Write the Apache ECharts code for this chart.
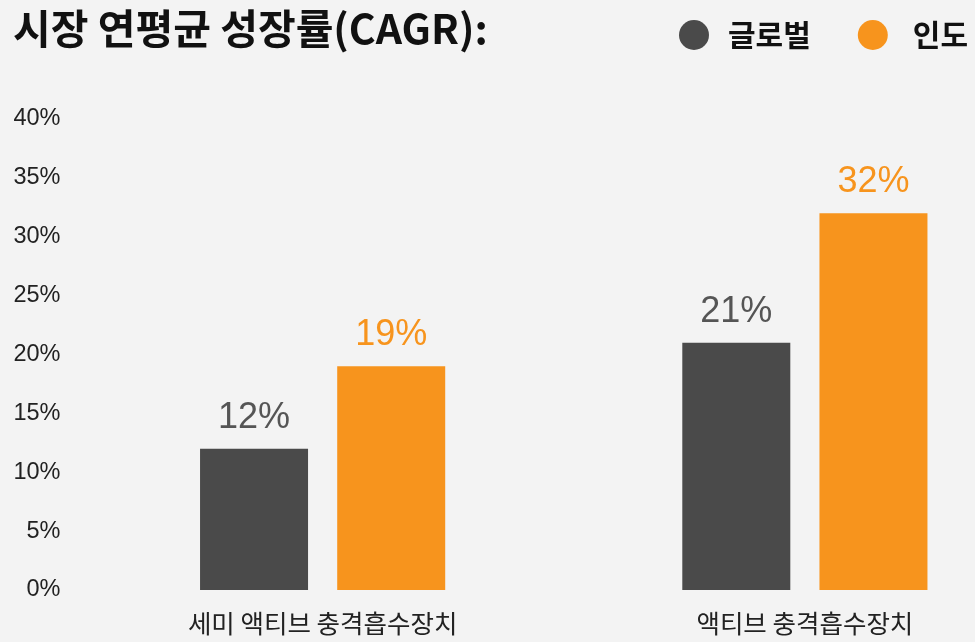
<!DOCTYPE html>
<html>
<head>
<meta charset="utf-8">
<script src="https://cdn.jsdelivr.net/npm/echarts@6/dist/echarts.min.js"></script>
<style>
	html, body { margin: 0; padding: 0; background: #f3f3f3; overflow: hidden; }
	/* the source chart is cropped on the right, so the canvas is wider than the window */
	#chart { width: 1046px; height: 642px; }
</style>
</head>
<body>
<div id="chart"></div>
<script>
const categories = ['세미 액티브 충격흡수장치', '액티브 충격흡수장치']
const seriesNames = ['글로벌', '인도']
const globalValues = [12, 21]
const indiaValues = [19, 32]
const yTicks = [0, 5, 10, 15, 20, 25, 30, 35, 40]

const colors = { global: '#4a4a4a', india: '#f7941d' }
const latinFont = '"Liberation Sans", "Noto Sans CJK KR", sans-serif'
const koFont = '"Noto Sans CJK KR", sans-serif'

const chart = echarts.init(document.getElementById('chart'))

const option = {
	backgroundColor: '#f3f3f3',
	animation: false,
	title: {
		text: '시장 연평균 성장률(CAGR):',
		left: 8,
		top: 3,
		textStyle: {
			fontFamily: koFont,
			fontWeight: 'bold',
			fontSize: 41,
			color: '#111'
		}
	},
	legend: {
		left: 674,
		top: 15,
		icon: 'circle',
		itemWidth: 30,
		itemHeight: 30,
		itemGap: 47,
		data: [
			{ name: seriesNames[0] },
			{ name: seriesNames[1], textStyle: { padding: [0, 0, 0, 20] } }
		],
		textStyle: {
			fontFamily: koFont,
			fontWeight: 'bold',
			fontSize: 30,
			color: '#111',
			padding: [0, 0, 0, 14]
		}
	},
	grid: {
		left: 81.5,
		right: 0,
		top: 119,
		bottom: 52
	},
	xAxis: {
		type: 'category',
		data: categories,
		axisLine: { show: false },
		axisTick: { show: false },
		axisLabel: {
			margin: 21,
			fontFamily: koFont,
			fontSize: 25.5,
			color: '#222'
		}
	},
	yAxis: {
		type: 'value',
		min: yTicks[0],
		max: yTicks[yTicks.length - 1],
		interval: 5,
		splitLine: { show: false },
		axisLine: { show: false },
		axisTick: { show: false },
		axisLabel: {
			margin: 21,
			fontFamily: latinFont,
			fontSize: 23.5,
			color: '#222',
			formatter: '{value}%'
		}
	},
	series: [
		{
			name: seriesNames[0],
			type: 'bar',
			data: globalValues,
			barWidth: 108,
			barGap: '27%',
			itemStyle: { color: colors.global },
			label: {
				show: true,
				position: 'top',
				distance: 13,
				fontFamily: latinFont,
				fontSize: 36,
				color: '#555',
				formatter: '{c}%'
			}
		},
		{
			name: seriesNames[1],
			type: 'bar',
			data: indiaValues,
			barWidth: 108,
			barGap: '27%',
			itemStyle: { color: colors.india },
			label: {
				show: true,
				position: 'top',
				distance: 13,
				fontFamily: latinFont,
				fontSize: 36,
				color: colors.india,
				formatter: '{c}%'
			}
		}
	]
}

chart.setOption(option)
</script>
</body>
</html>
